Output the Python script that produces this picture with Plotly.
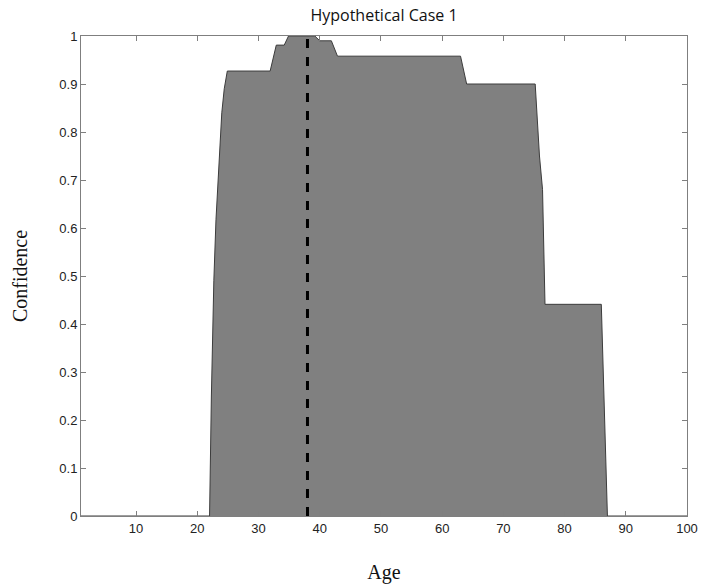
import plotly.graph_objects as go

# Data
age = [1, 22.0, 22.3, 22.7, 23.05, 23.6, 24.0, 24.4, 24.9, 31.9, 32.9, 34.2, 34.9,
       39.2, 40.0, 41.9, 42.9, 63.0, 64.0, 75.2, 75.9, 76.4, 76.7, 76.8,
       86.0, 86.5, 87.0, 100]
confidence = [0, 0, 0.25, 0.49, 0.617, 0.75, 0.84, 0.89, 0.927, 0.927, 0.981, 0.981, 1.0,
              1.0, 0.99, 0.99, 0.958, 0.958, 0.90, 0.90, 0.75, 0.68, 0.53, 0.441,
              0.441, 0.22, 0, 0]
mean_age = 38
title_text = "Hypothetical Case 1"
x_ticks = [10, 20, 30, 40, 50, 60, 70, 80, 90, 100]
y_ticks = [0, 0.1, 0.2, 0.3, 0.4, 0.5, 0.6, 0.7, 0.8, 0.9, 1]
y_tick_text = ["0", "0.1", "0.2", "0.3", "0.4", "0.5", "0.6", "0.7", "0.8", "0.9", "1"]

fig = go.Figure()
fig.add_trace(go.Scatter(
    x=age, y=confidence, mode="lines", fill="tozeroy",
    fillcolor="#808080", line=dict(color="#3c3c3c", width=1),
    showlegend=False, hoverinfo="skip"))
fig.add_trace(go.Scatter(
    x=[mean_age, mean_age], y=[0, 1], mode="lines",
    line=dict(color="black", width=3, dash="dash"),
    showlegend=False))

axis_common = dict(
    showgrid=False, zeroline=False, showline=True, linecolor="#7f7f7f", linewidth=1,
    mirror="ticks", ticks="inside", ticklen=5, tickcolor="#7f7f7f", automargin=False,
    tickfont=dict(family="Arial, Liberation Sans, sans-serif", size=13, color="#222"),
)
fig.update_xaxes(range=[1, 100], tickvals=x_ticks, **axis_common,
                 title=dict(text="Age", font=dict(family="Liberation Serif, Times New Roman, serif",
                                                    size=20, color="#111"), standoff=30))
fig.update_yaxes(range=[0, 1], tickvals=y_ticks, ticktext=y_tick_text, **axis_common,
                 title=dict(text="Confidence", font=dict(family="Liberation Serif, Times New Roman, serif",
                                                           size=20, color="#111"), standoff=26))
fig.update_layout(
    width=701, height=585,
    margin=dict(l=81, r=14, t=36, b=69, autoexpand=False),
    paper_bgcolor="white", plot_bgcolor="white",
    title=dict(text=title_text, x=(81 + 687) / 2 / 701, xanchor="center", y=1 - 15 / 585, yanchor="middle",
               font=dict(family="Open Sans, Noto Sans, sans-serif", size=16, color="#111")),
)
fig.write_html("out.html")
